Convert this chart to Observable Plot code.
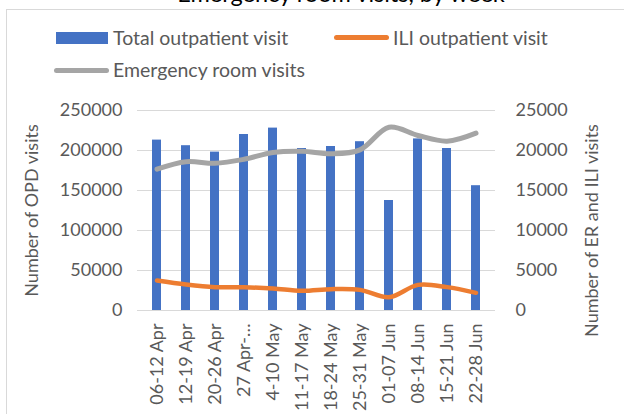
<!DOCTYPE html>
<html>
<head>
<meta charset="utf-8">
<script src="https://cdn.jsdelivr.net/npm/d3@7"></script>
<script src="https://cdn.jsdelivr.net/npm/@observablehq/plot@0.6"></script>
<style>
  html, body { margin: 0; padding: 0; background: #fff; }
  #wrap { position: relative; width: 624px; height: 414px; overflow: hidden; font-family: Lato, sans-serif; }
  #wrap svg { position: absolute; left: 0; top: 0; }
  .frame { position: absolute; left: 6px; top: 9px; width: 700px; height: 500px; border-left: 1px solid #D9D9D9; border-top: 1px solid #D9D9D9; }
  .title { position: absolute; left: 0; width: 682px; text-align: center; top: -21.5px; font-size: 23.5px; color: #000; line-height: 28px; }
  .leg { position: absolute; font-size: 19.5px; color: #595959; line-height: 22px; white-space: nowrap; }
  .sw { position: absolute; }
</style>
</head>
<body>
<div id="wrap">
  <div class="frame"></div>
  <div class="title">Emergency room visits, by week</div>
</div>
<script>
const weeks = ["06-12 Apr","12-19 Apr","20-26 Apr","27 Apr-…","4-10 May","11-17 May","18-24 May","25-31 May","01-07 Jun","08-14 Jun","15-21 Jun","22-28 Jun"];
const totalOPD = [213000,206000,198000,220000,228000,202500,205000,211000,137500,214500,202500,156000];
const iliVisits = [3750,3250,2920,2900,2750,2460,2670,2580,1670,3200,2920,2210];
const erVisits = [17660,18600,18400,18900,19750,19900,19580,20080,22900,21875,21170,22170];
const leftTicks = [0,50000,100000,150000,200000,250000];
const rightTicks = [0,5000,10000,15000,20000,25000];
const seriesNames = ["Total outpatient visit","ILI outpatient visit","Emergency room visits"];
const axisTitles = ["Number of OPD visits","Number of ER and ILI visits"];
const colors = ["#4472C4","#ED7D31","#A5A5A5"];

const ratio = 10; // right axis scaled into left-axis units
const bars = weeks.map((w,i) => ({week: w, v: totalOPD[i]}));
const ili = weeks.map((w,i) => ({week: w, v: iliVisits[i] * ratio}));
const er = weeks.map((w,i) => ({week: w, v: erVisits[i] * ratio}));

const chart = Plot.plot({
  width: 624,
  height: 414,
  marginLeft: 137,
  marginRight: 129,
  marginTop: 110,
  marginBottom: 104,
  style: {fontFamily: "Lato, sans-serif", fontSize: "18px", color: "#595959", background: "transparent", overflow: "visible"},
  x: {domain: weeks, paddingInner: 0.68, paddingOuter: 0.34, align: 0.5},
  y: {domain: [0, 250000]},
  marks: [
    Plot.gridY(leftTicks, {stroke: "#D9D9D9", strokeOpacity: 1, strokeWidth: 1}),
    Plot.barY(bars, {x: "week", y: "v", fill: colors[0]}),
    Plot.line(er, {x: "week", y: "v", stroke: colors[2], strokeWidth: 5, curve: "catmull-rom", strokeLinecap: "round"}),
    Plot.line(ili, {x: "week", y: "v", stroke: colors[1], strokeWidth: 4.5, curve: "catmull-rom", strokeLinecap: "round"}),
    Plot.axisX({tickSize: 0, tickPadding: 13, tickRotate: -90, label: null, fontSize: 18}),
    Plot.axisY({anchor: "left", ticks: leftTicks, tickSize: 0, tickPadding: 15, tickFormat: d => String(d),
      label: axisTitles[0], labelAnchor: "center", labelArrow: "none", labelOffset: 112}),
    Plot.axisY({anchor: "right", ticks: rightTicks.map(t => t * ratio), tickSize: 0, tickPadding: 20, tickFormat: d => String(d / ratio), label: null}),
    Plot.text([axisTitles[1]], {text: d => d, frameAnchor: "right", rotate: -90, dx: 97, dy: 20, fill: "#595959", fontSize: 18, textAnchor: "middle", lineAnchor: "middle"})
  ]
});
const wrap = document.getElementById("wrap");
wrap.appendChild(chart);

// legend
const legendItems = [
  {name: seriesNames[0], color: colors[0], type: "rect", sx: 56, sy: 32, tx: 113, ty: 37.5},
  {name: seriesNames[1], color: colors[1], type: "line", sx: 334, sy: 37.5, tx: 393, ty: 37.5},
  {name: seriesNames[2], color: colors[2], type: "line", sx: 54, sy: 70, tx: 113, ty: 70}
];
for (const it of legendItems) {
  const sw = document.createElement("div");
  sw.className = "sw";
  if (it.type === "rect") {
    Object.assign(sw.style, {left: it.sx + "px", top: it.sy + "px", width: "52px", height: "12px", background: it.color});
  } else {
    Object.assign(sw.style, {left: it.sx + "px", top: (it.sy - 2.5) + "px", width: "55px", height: "5px", background: it.color, borderRadius: "3px"});
  }
  wrap.appendChild(sw);
  const t = document.createElement("div");
  t.className = "leg";
  t.textContent = it.name;
  Object.assign(t.style, {left: it.tx + "px", top: (it.ty - 11) + "px"});
  wrap.appendChild(t);
}
</script>
</body>
</html>
